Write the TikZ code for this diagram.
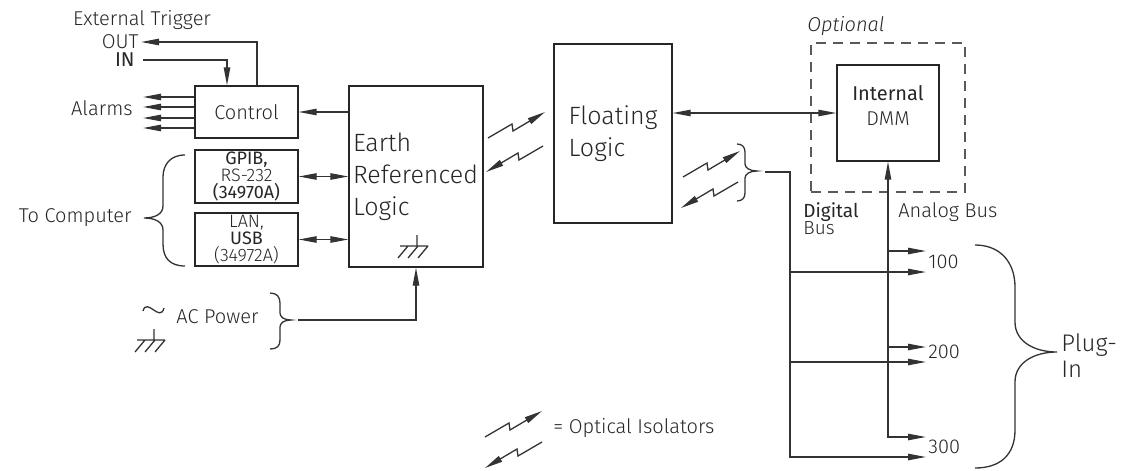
\documentclass[tikz,border=0pt]{standalone}
\usepackage{fontspec}
\setmainfont{Fira Sans}[UprightFont=* Light, ItalicFont=* Light Italic, BoldFont=*]
\usetikzlibrary{arrows.meta}
\newcommand\tightskip{\lineskiplimit-20pt\relax}

\begin{document}
\begin{tikzpicture}[x=0.5pt, y=-0.5pt,
	every node/.style={text=black!85, inner sep=1pt, font=\fontsize{10}{12}\selectfont},
	box/.style={draw=black!85, line width=0.65pt, inner sep=0pt},
	ln/.style={draw=black!80, line width=0.65pt},
	arr/.style={ln, -{Triangle[length=9pt, width=3.2pt]}},
	darr/.style={ln, {Triangle[length=9pt, width=3.2pt]}-{Triangle[length=9pt, width=3.2pt]}},
	tight/.style={font={\fontsize{9}{8.4}\selectfont\tightskip}},
	big/.style={font=\fontsize{12.5}{16}\selectfont},
	opto/.pic={\draw[arr] (0,0) -- (24,-14) -- (25,-7) -- (57,-26);},
	gnd/.pic={\draw[ln] (0,0) -- (0,11) (-17,11) -- (11,11) (-9,11) -- (-19,23) (1,11) -- (-9,23) (11,11) -- (1,23);}]
	\useasboundingbox (0,0) rectangle (1131,471);

	\node[box, minimum width=51.5pt, minimum height=26pt] (ctrl) at (246.5,112) {Control};
	\node[box, tight, align=center, minimum width=51.5pt, minimum height=26.5pt] (gpib) at (246.5,176.5) {\textbf{GPIB,}\\RS-232\\\textbf{(34970A)}};
	\node[box, tight, align=center, minimum width=51.5pt, minimum height=26.5pt] (lan) at (246.5,239.5) {LAN,\\\textbf{USB}\\(34972A)};
	\node[box, big, align=left, text width=63pt, minimum width=67pt, minimum height=90.5pt] (earth) at (416,176.5) {Earth\\Referenced\\Logic};
	\node[box, big, align=left, minimum width=59pt, minimum height=89.5pt] (float) at (613,133.5) {Floating\\Logic};
	\node[box, draw=black!65, dash pattern=on 5pt off 3.5pt, minimum width=77pt, minimum height=74.5pt] (opt) at (888,117.5) {};
	\node[box, minimum width=51pt, minimum height=48pt] (dmm) at (888,113) {};
	\node[align=center, font=\fontsize{10}{12.5}\selectfont] (dmmtxt) at (888,105) {\textbf{Internal}\\DMM};

	\node (trig) at (142,20) {External Trigger};
	\node[anchor=east] (outl) at (141,42) {OUT};
	\node[anchor=east] (inl) at (137,60) {\textbf{IN}};
	\node[anchor=east] (alarms) at (135,108) {Alarms};
	\node[anchor=east] (comp) at (134,218) {To Computer};
	\node[anchor=west] (acp) at (174,317) {AC Power};
	\node[anchor=west, font=\fontsize{10}{12}\selectfont\itshape] (optl) at (805,26) {Optional};
	\node[anchor=north west, align=left, font={\fontsize{9.5}{8.5}\selectfont\tightskip}] (dlbl) at (801,200) {\textbf{Digital}\\Bus};
	\node[anchor=west] (albl) at (896,212) {Analog Bus};
	\node[anchor=west] (s100) at (926,262) {100};
	\node[anchor=west] (s200) at (926,352) {200};
	\node[anchor=west] (s300) at (926,447) {300};
	\node[anchor=west, align=left, font=\fontsize{12}{13}\selectfont] (plug) at (1059,356) {Plug-\\In};
	\node[anchor=west] (isol) at (551,428) {= Optical Isolators};

	\draw[arr] ([xshift=5.25pt]ctrl.north) |- (outl.east);
	\draw[arr] ([xshift=3pt]inl.east) -| ([xshift=-9.75pt]ctrl.north);
	\coordinate (alm) at (143,112);
	\foreach \y in {97,107,118,128}
		\draw[arr] (ctrl.west |- 0,\y) -- (alm |- 0,\y);
	\draw[arr] (earth.west |- ctrl.east) -- (ctrl.east);
	\draw[darr] (gpib.east) -- (earth.west |- gpib.east);
	\draw[darr] (lan.east) -- (earth.west |- lan.east);

	\draw[ln] (185,155) .. controls (170,155) and (163,165) .. (163,177) -- (163,206) .. controls (163,214) and (155,218) .. (144,218)
		.. controls (155,218) and (163,222) .. (163,230) -- (163,244) .. controls (163,258) and (170,266) .. (185,266);
	\draw[ln] (270,293) .. controls (277,293) and (280,297) .. (280,303) -- (280,313) .. controls (280,317) and (284,320) .. (291,320)
		.. controls (284,320) and (280,323) .. (280,327) -- (280,340) .. controls (280,346) and (277,349) .. (270,349);
	\coordinate (actip) at (298,320);
	\draw[arr] (actip) -| (earth.south);
	\draw[ln] (143,311) .. controls (147,297) and (160,323) .. (164,308);
	\pic at (154,329) {gnd};
	\pic at (417,235) {gnd};

	\pic at (488,138) {opto};
	\pic[rotate=180] at (543,146) {opto};
	\pic at (683,177) {opto};
	\pic[rotate=180] at (738,182) {opto};
	\pic at (485,437) {opto};
	\pic[rotate=180] at (542,442) {opto};

	\draw[darr] (float.east |- dmm.west) -- (dmm.west);
	\draw[ln] (737,144) .. controls (742,144) and (745,147) .. (745,152) -- (745,164) .. controls (745,168) and (750,171) .. (757,171)
		.. controls (750,171) and (745,174) .. (745,178) -- (745,193) .. controls (745,198) and (742,201) .. (737,201);
	\coordinate (dbus) at (765,172);
	\coordinate (dbot) at (790,457);
	\draw[arr] (dbus) -| (dbot) -- (s300.west |- dbot);
	\draw[darr] (dmm.south) |- (s300.west |- 0,437);
	\draw[arr] (dmm.south |- 0,251) -- (s100.west |- 0,251);
	\draw[arr] (dbot |- 0,272) -- (s100.west |- 0,272);
	\draw[arr] (dmm.south |- 0,347) -- (s200.west |- 0,347);
	\draw[arr] (dbot |- 0,362) -- (s200.west |- 0,362);

	\draw[ln] (975,245) .. controls (1000,245) and (1015,262) .. (1015,287) -- (1015,322) .. controls (1015,342) and (1035,352) .. (1057,352)
		.. controls (1035,352) and (1015,362) .. (1015,382) -- (1015,430) .. controls (1015,455) and (1000,468) .. (975,468);
\end{tikzpicture}
\end{document}
